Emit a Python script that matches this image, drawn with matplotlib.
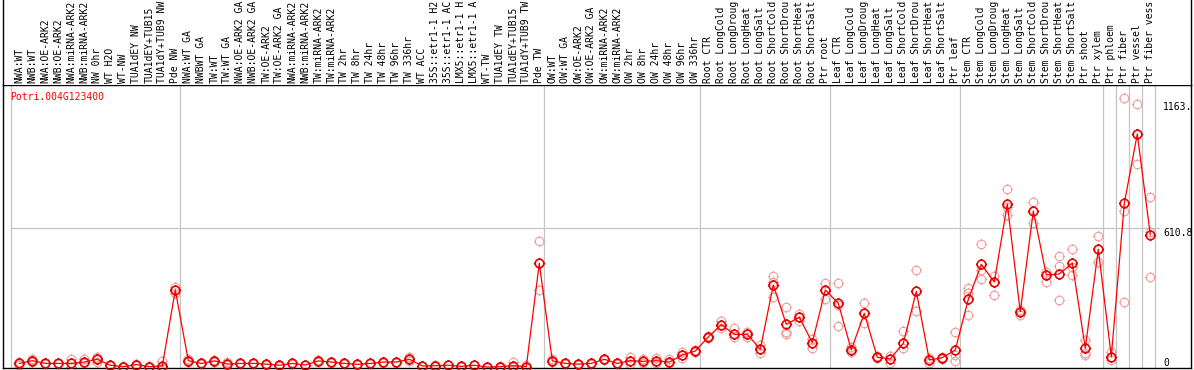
import matplotlib
matplotlib.use("Agg")
import matplotlib.pyplot as plt
from matplotlib.path import Path
import matplotlib.transforms as mtransforms
import numpy as np

# ---------------- data ----------------
gene = "Potri.004G123400"

group_sizes = [13, 28, 12, 10, 10, 11, 1, 1, 1, 1]

categories = [
    "NWA:WT", "NWB:WT", "NWA:OE-ARK2", "NWB:OE-ARK2", "NWA:miRNA-ARK2", "NWB:miRNA-ARK2",
    "NW 0hr", "WT H2O", "WT-NW", "TUA1dEY NW", "TUA1dEY+TUB15", "TUA1dY+TUB9 NW", "Pde NW",
    "NWA:WT GA", "NWBWT GA", "TW:WT", "TW:WT GA", "NWA:OE-ARK2 GA", "NWB:OE-ARK2 GA",
    "TW:OE-ARK2", "TW:OE-ARK2 GA", "NWA:miRNA-ARK2", "NWB:miRNA-ARK2", "TW:miRNA-ARK2",
    "TW:miRNA-ARK2", "TW 2hr", "TW 8hr", "TW 24hr", "TW 48hr", "TW 96hr", "TW 336hr",
    "WT ACC", "35S::etr1-1 H2", "35S::etr1-1 AC", "LMX5::etr1-1 H", "LMX5::etr1-1 A",
    "WT-TW", "TUA1dEY TW", "TUA1dEY+TUB15", "TUA1dY+TUB9 TW", "Pde TW",
    "OW:WT", "OW:WT GA", "OW:OE-ARK2", "OW:OE-ARK2 GA", "OW:miRNA-ARK2", "OW:miRNA-ARK2",
    "OW 2hr", "OW 8hr", "OW 24hr", "OW 48hr", "OW 96hr", "OW 336hr",
    "Root CTR", "Root LongCold", "Root LongDroug", "Root LongHeat", "Root LongSalt",
    "Root ShortCold", "Root ShortDrou", "Root ShortHeat", "Root ShortSalt", "Ptr root",
    "Leaf CTR", "Leaf LongCold", "Leaf LongDroug", "Leaf LongHeat", "Leaf LongSalt",
    "Leaf ShortCold", "Leaf ShortDrou", "Leaf ShortHeat", "Leaf ShortSalt", "Ptr leaf",
    "Stem CTR", "Stem LongCold", "Stem LongDroug", "Stem LongHeat", "Stem LongSalt",
    "Stem ShortCold", "Stem ShortDrou", "Stem ShortHeat", "Stem ShortSalt", "Ptr shoot",
    "Ptr xylem",
    "Ptr phloem", "Ptr fiber", "Ptr vessel", "Ptr fiber vess",
]

means = [
    20, 32, 20, 20, 20, 26, 38, 12, 6, 15, 6, 9, 341,
    32, 20, 31, 17, 20, 20, 17, 12, 20, 13, 31, 26, 20, 16, 20, 26, 26, 38,
    9, 10, 12, 7, 12, 4, 6, 10, 6, 458,
    31, 20, 17, 20, 38, 20, 32, 29, 32, 26, 57, 74,
    136, 189, 147, 147, 82, 363, 191, 222, 111, 341,
    283, 79, 239, 47, 40, 108, 335, 35, 45, 79,
    300, 453, 376, 716, 246, 686, 407, 411, 458, 86, 519,
    50, 720, 1023, 582,
]

replicates = [
    [15, 22, 25], [25, 35, 38], [18, 20, 22], [18, 20, 22], [3, 20, 38], [20, 26, 38],
    [28, 38, 48], [10, 12, 14], [4, 6, 8], [13, 15, 17], [5, 6, 7], [2, 5, 32], [330, 341, 352],
    [26, 32, 38], [18, 20, 22], [28, 31, 34], [14, 17, 26], [18, 20, 22], [18, 20, 22],
    [15, 17, 19], [10, 12, 14], [18, 20, 22], [11, 13, 15], [28, 31, 34], [24, 26, 28],
    [18, 20, 22], [14, 16, 18], [18, 20, 22], [24, 26, 28], [24, 26, 28], [30, 38, 46],
    [8, 9, 10], [9, 10, 11], [11, 12, 13], [6, 7, 8], [11, 12, 13], [3, 4, 5], [5, 6, 7],
    [6, 8, 28], [4, 6, 14], [341, 458, 557],
    [26, 31, 40], [18, 20, 22], [15, 17, 19], [18, 20, 22], [35, 38, 41], [18, 20, 22],
    [17, 32, 47], [20, 29, 38], [23, 32, 44], [20, 26, 38], [42, 57, 71], [70, 74, 78],
    [130, 136, 142], [174, 189, 207], [134, 147, 174], [134, 147, 159], [64, 82, 101],
    [309, 377, 402], [149, 159, 265], [207, 222, 236], [86, 111, 125], [300, 341, 370],
    [184, 277, 370], [71, 79, 93], [198, 239, 283], [42, 47, 52], [20, 40, 52],
    [86, 108, 163], [249, 335, 427], [23, 35, 42], [40, 45, 50], [32, 57, 156],
    [230, 327, 348], [388, 429, 541], [319, 376, 402], [669, 705, 781], [232, 246, 254],
    [633, 686, 726], [377, 407, 421], [297, 446, 490], [407, 443, 520], [57, 64, 122],
    [465, 519, 577],
    [35, 50, 71], [287, 688, 1179], [891, 1023, 1154], [397, 596, 746],
]

value_labels = ["1163.", "610.8", "0"]
value_label_pos = [1163, 610.8, 0]
grid_value = 610.8
y_max = 1237

# ---------------- layout ----------------
W, H = 1194, 370
fig = plt.figure(figsize=(W / 100, H / 100), dpi=100)
fig.patch.set_facecolor("white")

left_px, right_px = 3, 1191
mid_px, bot_px = 85, 368
first_px, step_px = 19.3, 13.0

ax = fig.add_axes([left_px / W, (H - bot_px) / H, (right_px - left_px) / W, (bot_px - mid_px) / H])
lab = fig.add_axes([left_px / W, (H - mid_px) / H, (right_px - left_px) / W, mid_px / H], sharex=ax)

n = len(categories)
x = np.arange(n)
ax.set_xlim((left_px - first_px) / step_px, (right_px - first_px) / step_px)
ax.set_ylim(0, y_max)
lab.set_ylim(0, 1)

for a in (ax, lab):
    a.set_xticks([])
    a.set_yticks([])
    a.set_facecolor("white")
    for s in a.spines.values():
        s.set_color("black")
        s.set_linewidth(1.0)
lab.spines["top"].set_visible(False)
lab.spines["bottom"].set_visible(False)

# group separators
bounds = np.concatenate([[0], np.cumsum(group_sizes)]) - 0.64
for b in bounds:
    ax.axvline(b, color="#c4c4c4", lw=0.9, zorder=1)

ax.hlines(grid_value, bounds[0], n - 0.25, color="#c4c4c4", lw=0.9, zorder=1)

# markers: ring with four small ticks
ticks = []
for dx, dy in [(1, 0), (-1, 0), (0, 1), (0, -1)]:
    ticks.append(Path([(dx * 1.0, dy * 1.0), (dx * 1.3, dy * 1.3)], [Path.MOVETO, Path.LINETO]))
ring = Path.make_compound_path(Path.unit_circle(), *ticks)

rep_color = "#f0a0a0"
for i, reps in enumerate(replicates):
    ax.plot([i] * len(reps), reps, linestyle="none", marker=ring, markersize=8.0,
            markerfacecolor="none", markeredgecolor=rep_color, markeredgewidth=0.8,
            zorder=2, clip_on=False)

ax.plot(x, means, color="#ff0000", lw=0.9, zorder=3, clip_on=False)
ax.plot(x, means, linestyle="none", marker=ring, markersize=8.0,
        markerfacecolor="none", markeredgecolor="#e60000", markeredgewidth=1.15,
        zorder=4, clip_on=False)

# labels
mono = "DejaVu Sans Mono"
tr_lab = mtransforms.blended_transform_factory(lab.transData, lab.transAxes)
for i, c in enumerate(categories):
    lab.text(i, 2 / mid_px, c, rotation=90, ha="center", va="bottom", fontsize=7,
             family=mono, color="black", transform=tr_lab, clip_on=False)

tr_ax = mtransforms.blended_transform_factory(ax.transData, ax.transAxes)
ax.text(bounds[0] - 0.05, 1 - 12 / (bot_px - mid_px), gene, color="#ff0000", fontsize=7,
        family=mono, ha="left", va="center", transform=tr_ax)

xr = (1163 - first_px) / step_px
for t, v in zip(value_labels, value_label_pos):
    ax.text(xr, v, t, fontsize=7, family=mono, ha="left",
            va="bottom" if v == 0 else "top", color="black")

fig.savefig("out.png", dpi=100, facecolor="white")
